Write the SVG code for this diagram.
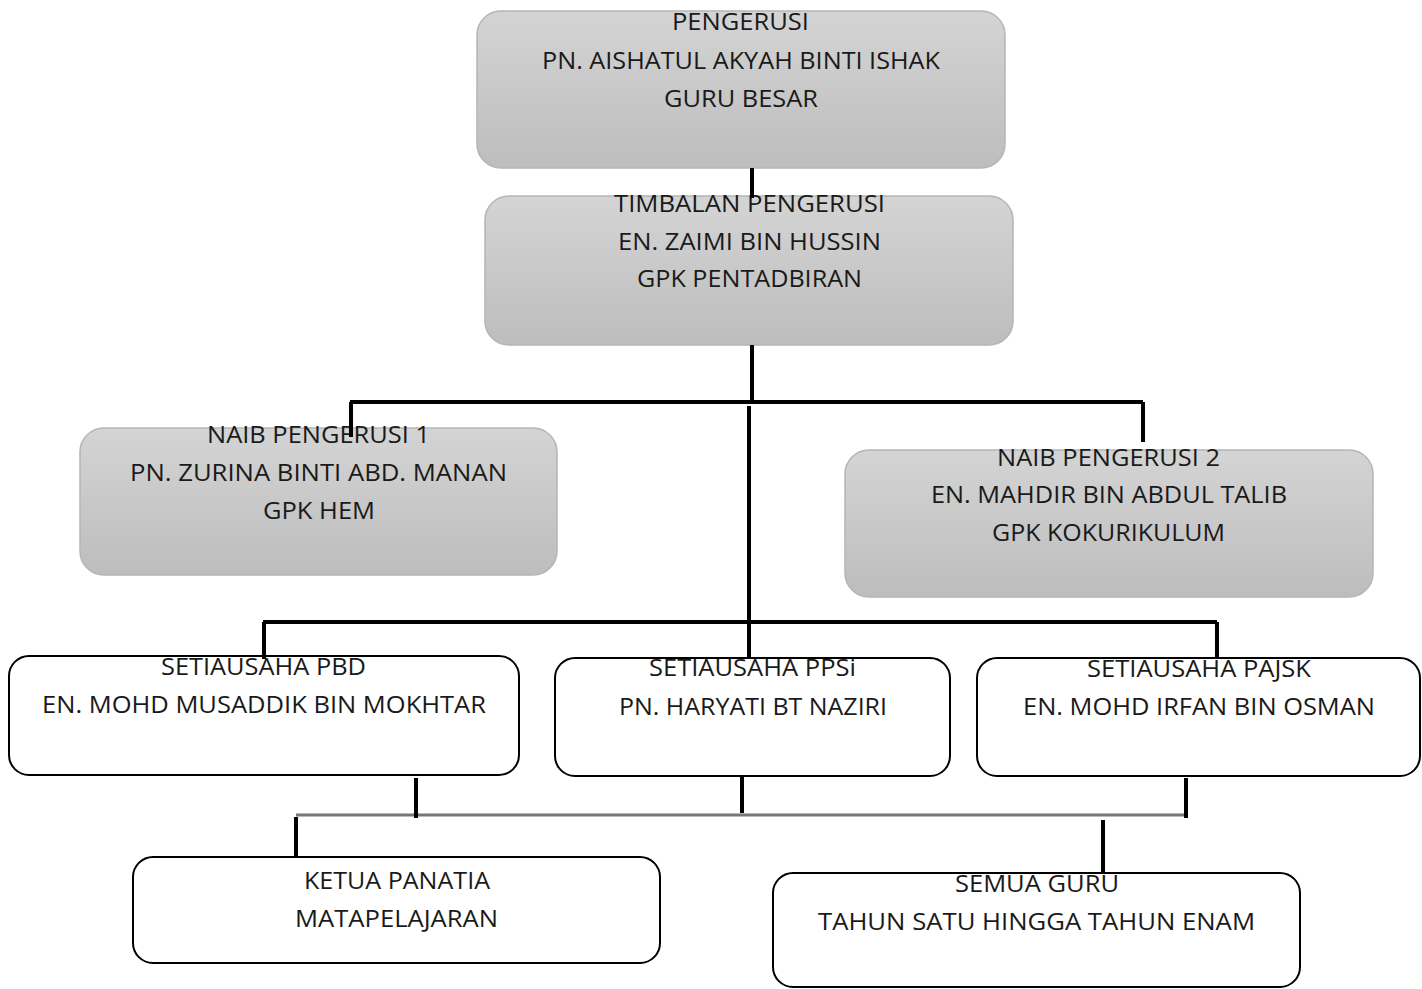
<svg xmlns="http://www.w3.org/2000/svg" width="1422" height="989" viewBox="0 0 1422 989">
<defs>
<linearGradient id="g" x1="0" y1="0" x2="0" y2="1">
<stop offset="0" stop-color="#d4d4d4"/>
<stop offset="1" stop-color="#bdbdbd"/>
</linearGradient>
</defs>
<style>
.gb{fill:url(#g);stroke:#b5b5b5;stroke-width:1.5}
.wb{fill:#fff;stroke:#000;stroke-width:2}
text{font-family:"Open Sans","Noto Sans","DejaVu Sans",sans-serif;font-size:24px;fill:#1a1a1a;text-anchor:middle}
.c{stroke:#000;stroke-width:4;fill:none}
.cg{stroke:#777;stroke-width:3;fill:none}
</style>
<rect width="1422" height="989" fill="#fff"/>
<g id="pengerusi">
<rect class="gb" x="477" y="11" width="528" height="157" rx="24"/>
<text x="740.5" y="30" textLength="137" lengthAdjust="spacingAndGlyphs">PENGERUSI</text>
<text x="741" y="69" textLength="398" lengthAdjust="spacingAndGlyphs">PN. AISHATUL AKYAH BINTI ISHAK</text>
<text x="741" y="107" textLength="154" lengthAdjust="spacingAndGlyphs">GURU BESAR</text>
</g>
<g id="timbalan">
<rect class="gb" x="485" y="196" width="528" height="149" rx="24"/>
<text x="749.5" y="212" textLength="271" lengthAdjust="spacingAndGlyphs">TIMBALAN PENGERUSI</text>
<text x="749.5" y="250" textLength="263" lengthAdjust="spacingAndGlyphs">EN. ZAIMI BIN HUSSIN</text>
<text x="749.5" y="287" textLength="225" lengthAdjust="spacingAndGlyphs">GPK PENTADBIRAN</text>
</g>
<g id="naib1">
<rect class="gb" x="80" y="428" width="477" height="147" rx="24"/>
<text x="318.5" y="443" textLength="223" lengthAdjust="spacingAndGlyphs">NAIB PENGERUSI 1</text>
<text x="318.5" y="481" textLength="377" lengthAdjust="spacingAndGlyphs">PN. ZURINA BINTI ABD. MANAN</text>
<text x="319" y="519" textLength="112" lengthAdjust="spacingAndGlyphs">GPK HEM</text>
</g>
<g id="naib2">
<rect class="gb" x="845" y="450" width="528" height="147" rx="24"/>
<text x="1108.5" y="466" textLength="223" lengthAdjust="spacingAndGlyphs">NAIB PENGERUSI 2</text>
<text x="1109" y="503" textLength="356" lengthAdjust="spacingAndGlyphs">EN. MAHDIR BIN ABDUL TALIB</text>
<text x="1108.5" y="541" textLength="233" lengthAdjust="spacingAndGlyphs">GPK KOKURIKULUM</text>
</g>
<g id="setiausaha-pbd">
<rect class="wb" x="9" y="656" width="510" height="119" rx="20"/>
<text x="263.5" y="675" textLength="205" lengthAdjust="spacingAndGlyphs">SETIAUSAHA PBD</text>
<text x="264" y="713" textLength="444" lengthAdjust="spacingAndGlyphs">EN. MOHD MUSADDIK BIN MOKHTAR</text>
</g>
<g id="setiausaha-ppsi">
<rect class="wb" x="555" y="658" width="395" height="118" rx="20"/>
<text x="752.5" y="676" textLength="207" lengthAdjust="spacingAndGlyphs">SETIAUSAHA PPSi</text>
<text x="753" y="715" textLength="268" lengthAdjust="spacingAndGlyphs">PN. HARYATI BT NAZIRI</text>
</g>
<g id="setiausaha-pajsk">
<rect class="wb" x="977" y="658" width="443" height="118" rx="20"/>
<text x="1199" y="677" textLength="224" lengthAdjust="spacingAndGlyphs">SETIAUSAHA PAJSK</text>
<text x="1199" y="715" textLength="352" lengthAdjust="spacingAndGlyphs">EN. MOHD IRFAN BIN OSMAN</text>
</g>
<g id="ketua-panatia">
<rect class="wb" x="133" y="857" width="527" height="106" rx="20"/>
<text x="397" y="889" textLength="186" lengthAdjust="spacingAndGlyphs">KETUA PANATIA</text>
<text x="396.5" y="927" textLength="203" lengthAdjust="spacingAndGlyphs">MATAPELAJARAN</text>
</g>
<g id="semua-guru">
<rect class="wb" x="773" y="873" width="527" height="114" rx="20"/>
<text x="1037" y="892" textLength="164" lengthAdjust="spacingAndGlyphs">SEMUA GURU</text>
<text x="1036.5" y="930" textLength="437" lengthAdjust="spacingAndGlyphs">TAHUN SATU  HINGGA TAHUN ENAM</text>
</g>
<g id="connectors">
<path class="c" stroke-width="5" d="M752 168V198"/>
<path class="c" d="M752 345V402"/>
<path class="c" stroke-width="3" d="M350 402H1143"/>
<path class="c" d="M351 402V437"/>
<path class="c" d="M1143 402V442"/>
<path class="c" d="M749 406V657"/>
<path class="c" stroke-width="3" d="M263 622H1217"/>
<path class="c" d="M264 622V659"/>
<path class="c" d="M1217 622V658"/>
<path class="cg" d="M296 815H1186"/>
<path class="c" d="M416 778V818"/>
<path class="c" d="M742 775V813"/>
<path class="c" d="M1186 778V818"/>
<path class="c" d="M296 817V857"/>
<path class="c" d="M1103 820V874"/>
</g>
</svg>
